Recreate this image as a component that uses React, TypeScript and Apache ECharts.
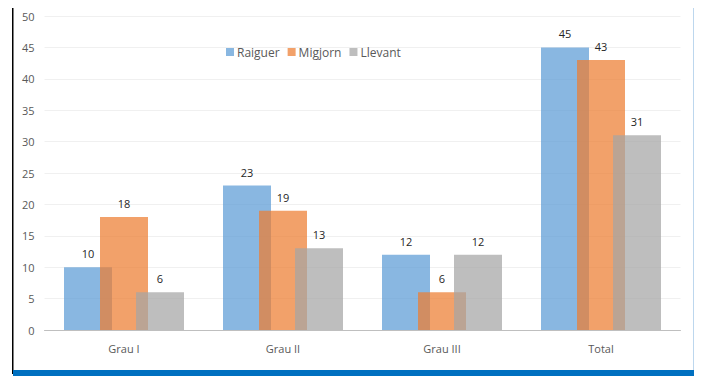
import React, { useEffect, useRef } from "react";
import * as echarts from "echarts";

const categories = ["Grau I", "Grau II", "Grau III", "Total"];
const raiguer = [10, 23, 12, 45];
const migjorn = [18, 19, 6, 43];
const llevant = [6, 13, 12, 31];
const seriesNames = ["Raiguer", "Migjorn", "Llevant"];
const colors = ["rgba(91,155,213,0.72)", "rgba(237,125,49,0.72)", "rgba(165,165,165,0.72)"];

export default function App() {
  const ref = useRef<HTMLDivElement>(null);
  useEffect(() => {
    const chart = echarts.init(ref.current!, null, { renderer: "svg" });
    const data = [raiguer, migjorn, llevant];
    chart.setOption({
      animation: false,
      textStyle: { fontFamily: "Open Sans, Noto Sans, sans-serif" },
      grid: { left: 44.5, right: 25.5, top: 16, bottom: 55, containLabel: false },
      legend: {
        left: 226,
        top: 46,
        padding: 0,
        itemWidth: 8,
        itemHeight: 8,
        itemGap: 8,
        icon: "rect",
        textStyle: { color: "#595959", fontSize: 12, padding: [0, 0, 0, -2] },
        data: seriesNames,
      },
      xAxis: {
        type: "category",
        data: categories,
        axisLine: { lineStyle: { color: "#BFBFBF" } },
        axisTick: { show: false },
        axisLabel: { color: "#595959", fontSize: 11, margin: 13 },
      },
      yAxis: {
        type: "value",
        min: 0,
        max: 50,
        interval: 5,
        axisLine: { show: false },
        axisTick: { show: false },
        axisLabel: { color: "#595959", fontSize: 11, margin: 10 },
        splitLine: { lineStyle: { color: "#F0F0F0" } },
      },
      series: seriesNames.map((n, i) => ({
        name: n,
        type: "bar",
        data: data[i],
        barWidth: 48,
        barGap: "-25%",
        itemStyle: { color: colors[i] },
        label: { show: true, position: "top", distance: 8, color: "#262626", fontSize: 11 },
      })),
      graphic: [
        { type: "rect", shape: { x: 12, y: 8, width: 1.5, height: 366 }, style: { fill: "#000" } },
        { type: "rect", shape: { x: 693, y: 8, width: 1, height: 362 }, style: { fill: "#BDD7EE" } },
        { type: "rect", shape: { x: 13, y: 370, width: 681, height: 6 }, style: { fill: "#0070C0" } },
      ],
    });
    return () => chart.dispose();
  }, []);
  return (
    <div
      ref={ref}
      style={{ position: "fixed", left: 0, top: 0, width: 706, height: 385, background: "#fff" }}
    />
  );
}
